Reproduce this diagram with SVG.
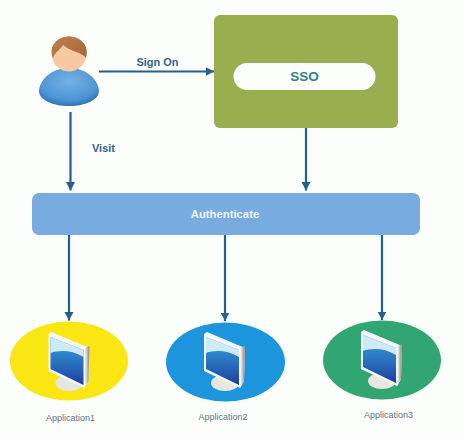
<svg xmlns="http://www.w3.org/2000/svg" xmlns:xlink="http://www.w3.org/1999/xlink" width="464" height="440" viewBox="0 0 464 440">
<style>
text{font-family:"Liberation Sans",Arial,sans-serif}
.lbl{font-size:11px;font-weight:bold;fill:#35648f}
.app{font-size:9px;fill:#5f7488}
.c{fill:none;stroke:#23608f;stroke-width:2.200;marker-end:url(#ah)}
</style>
<defs>
<marker id="ah" markerUnits="userSpaceOnUse" markerWidth="10" markerHeight="10" refX="8.500" refY="4.500" orient="auto"><path d="M0 0L8.500 4.500L0 9Z" fill="#23608f"/></marker>
<radialGradient id="body" cx=".5" cy=".35" r=".75"><stop offset="0" stop-color="#74b2e6"/><stop offset=".65" stop-color="#4f94d4"/><stop offset="1" stop-color="#1a62aa"/></radialGradient>
<linearGradient id="hair" x1="0" y1="0" x2="1" y2="1"><stop offset="0" stop-color="#b9824f"/><stop offset="1" stop-color="#a8663c"/></linearGradient>
<linearGradient id="scr" x1="0" y1="0" x2="0" y2="1"><stop offset="0" stop-color="#2fa6d9"/><stop offset=".55" stop-color="#2a6fbe"/><stop offset="1" stop-color="#1d3f9c"/></linearGradient>
<linearGradient id="side" x1="0" y1="0" x2="1" y2="0"><stop offset="0" stop-color="#ffffff"/><stop offset="1" stop-color="#8d8478"/></linearGradient>
<g id="mon">
<ellipse cx="20" cy="50" rx="14" ry="8" fill="#e8e6e0"/>
<path d="M-1 1L2 -1L40 15L39 48L35 55L-1 38Z" fill="#f4f8fa"/>
<path d="M35 15L40 13L39 48L35 55Z" fill="url(#side)"/>
<path d="M1 4L34 17L34 52L1 36Z" fill="url(#scr)"/>
<path d="M1 4L34 17L34 24C22 17 10 17 1 20Z" fill="#cdeaf5"/>
</g>
</defs>
<rect width="464" height="440" fill="#fbfefb"/>
<g id="connectors">
<path class="c" d="M99 71.500H214"/>
<path class="c" d="M70.500 112V190.500"/>
<path class="c" d="M306 127V190.500"/>
<path class="c" d="M69 234V320.500"/>
<path class="c" d="M225 234V321"/>
<path class="c" d="M382 234V320"/>
</g>
<text class="lbl" x="157.500" y="65.500" text-anchor="middle">Sign On</text>
<text class="lbl" x="103.500" y="152" text-anchor="middle">Visit</text>
<g id="user">
<path d="M39 91C40 78 53 68 69 68C85 68 98 78 99 91C99 100 85 106 69 106C53 106 39 100 39 91Z" fill="url(#body)"/>
<circle cx="69" cy="54" r="17.500" fill="#f6c9a0"/>
<path d="M53 58C48 45 58 36.500 69 36.500C80 36.500 90 45 86 58C82 52 71 52 63 45C60 50 55 52 53 58Z" fill="url(#hair)"/>
</g>
<g id="sso">
<rect x="214" y="15" width="184" height="113" rx="6" fill="#98ae4f"/>
<rect x="233.500" y="63" width="142" height="27" rx="13.500" fill="#fbfefb"/>
<text x="304.500" y="80.500" text-anchor="middle" font-size="13.500" font-weight="bold" fill="#2f8480">SSO</text>
</g>
<g id="authenticate">
<rect x="32" y="193" width="388" height="42" rx="7" fill="#78abdf"/>
<text x="225" y="218" text-anchor="middle" font-size="11.300" font-weight="bold" fill="#eef5fb">Authenticate</text>
</g>
<g id="app1">
<ellipse cx="69" cy="361" rx="59" ry="39.500" fill="#f9e612"/>
<use xlink:href="#mon" href="#mon" x="49.500" y="333"/>
<text class="app" x="70.500" y="421" text-anchor="middle">Application1</text>
</g>
<g id="app2">
<ellipse cx="225.500" cy="362" rx="59.500" ry="39.500" fill="#1c95dc"/>
<use xlink:href="#mon" href="#mon" x="205" y="333"/>
<text class="app" x="223" y="420" text-anchor="middle">Application2</text>
</g>
<g id="app3">
<ellipse cx="382" cy="360" rx="59" ry="39.500" fill="#31a673"/>
<use xlink:href="#mon" href="#mon" x="362" y="331"/>
<text class="app" x="388.500" y="418" text-anchor="middle">Application3</text>
</g>
</svg>
